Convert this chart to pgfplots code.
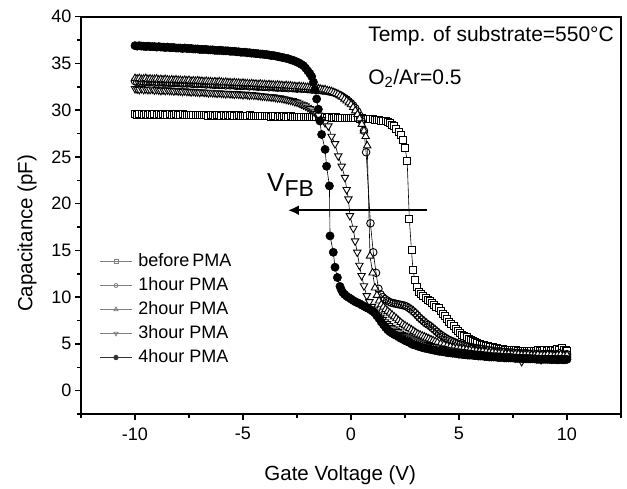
\documentclass[border=0pt]{standalone}
\usepackage{fontspec}
\setmainfont{Liberation Sans}
\usepackage{pgfplots}
\pgfplotsset{compat=1.18}
\usetikzlibrary{arrows.meta}

\begin{document}
\begin{tikzpicture}[x=1pt,y=1pt]
\begin{axis}[
  at={(81pt,74pt)}, anchor=south west,
  scale only axis, width=540pt, height=397.3pt,
  xmin=-12.5, xmax=12.5, ymin=-2.5, ymax=40,
  xtick={-10,-5,0,5,10}, ytick={0,5,...,40},
  minor xtick={-12.5,-7.5,-2.5,2.5,7.5,12.5},
  minor ytick={-2.5,2.5,7.5,12.5,17.5,22.5,27.5,32.5,37.5},
  tick align=outside, tick pos=left,
  major tick length=6pt, minor tick length=4pt,
  every tick/.style={black, line width=1.5pt},
  axis line style={line width=1.8pt},
  /pgf/number format/assume math mode=true,
  ticklabel style={font=\fontsize{18}{18}\selectfont},
  xticklabel shift=4pt,
  xlabel={Gate Voltage (V)}, ylabel={Capacitance (pF)},
  label style={font=\fontsize{20.5}{20.5}\selectfont},
  xlabel style={at={(ticklabel cs:0.48)}, yshift=-19pt},
  ylabel style={at={(ticklabel cs:0.455)}, yshift=8pt},
  legend style={at={(axis cs:-11.65,14.85)}, anchor=north west, draw=none, fill=none, inner sep=0pt,
    font=\fontsize{18}{18}\selectfont, row sep=5pt, column sep=5pt,
    nodes={inner sep=1pt, text height=13pt, text depth=4pt}},
  legend cell align=left,
  legend image code/.code={\draw[mark repeat=2,mark phase=2,#1] plot coordinates {(0pt,0pt) (16pt,0pt) (32pt,0pt)};},
]
% before PMA
\addplot[black, line width=0.6pt, mark=square*, mark size=3.5pt, mark options={solid, fill=white, line width=0.9pt}, forget plot] coordinates {
(-10.0,29.6)(-9.9,29.5)(-9.8,29.55)(-9.7,29.6)(-9.6,29.5)(-9.5,29.55)(-9.4,29.5)(-9.3,29.6)(-9.2,29.5)(-9.1,29.55)
(-9.0,29.5)(-8.9,29.55)(-8.8,29.5)(-8.7,29.6)(-8.6,29.5)(-8.5,29.5)(-8.4,29.55)(-8.3,29.5)(-8.2,29.5)(-8.1,29.55)
(-8.0,29.45)(-7.9,29.5)(-7.8,29.55)(-7.7,29.5)(-7.6,29.45)(-7.5,29.5)(-7.4,29.5)(-7.3,29.45)(-7.2,29.5)(-7.1,29.45)
(-7.0,29.5)(-6.9,29.45)(-6.8,29.5)(-6.7,29.45)(-6.6,29.4)(-6.5,29.5)(-6.4,29.45)(-6.3,29.4)(-6.2,29.45)(-6.1,29.5)
(-6.0,29.4)(-5.9,29.45)(-5.8,29.4)(-5.7,29.45)(-5.6,29.4)(-5.5,29.45)(-5.4,29.4)(-5.3,29.4)(-5.2,29.45)(-5.1,29.4)
(-5.0,29.4)(-4.9,29.35)(-4.8,29.4)(-4.7,29.45)(-4.6,29.4)(-4.5,29.35)(-4.4,29.4)(-4.3,29.35)(-4.2,29.4)(-4.1,29.35)
(-4.0,29.35)(-3.9,29.4)(-3.8,29.35)(-3.7,29.3)(-3.6,29.35)(-3.5,29.35)(-3.4,29.3)(-3.3,29.35)(-3.2,29.3)(-3.1,29.35)
(-3.0,29.3)(-2.9,29.3)(-2.8,29.35)(-2.7,29.3)(-2.6,29.3)(-2.5,29.25)(-2.4,29.3)(-2.3,29.3)(-2.2,29.25)(-2.1,29.3)
(-2.0,29.25)(-1.9,29.3)(-1.8,29.25)(-1.7,29.25)(-1.6,29.3)(-1.5,29.25)(-1.4,29.2)(-1.3,29.25)(-1.2,29.25)(-1.1,29.2)
(-1.0,29.25)(-0.9,29.2)(-0.8,29.2)(-0.7,29.25)(-0.6,29.2)(-0.5,29.2)(-0.4,29.15)(-0.3,29.2)(-0.2,29.2)(-0.1,29.15)
(0.0,29.2)(0.1,29.15)(0.2,29.15)(0.3,29.2)(0.4,29.1)(0.5,29.15)(0.6,29.1)(0.7,29.1)(0.8,29.05)(0.9,29.1)
(1.0,29.05)(1.1,29.0)(1.2,29.0)(1.3,28.95)(1.4,28.9)(1.5,28.85)(1.6,28.8)(1.7,28.7)(1.8,28.6)(1.9,28.45)
(2.0,28.3)(2.1,28.0)(2.2,27.7)(2.3,27.3)(2.4,26.8)(2.5,26.0)(2.6,24.6)(2.7,18.4)(2.8,15.0)(2.87,12.9)
(2.96,11.8)(3.05,11.1)(3.15,10.6)(3.25,10.3)(3.35,10.1)(3.45,9.9)(3.55,9.7)(3.65,9.6)(3.75,9.4)(3.85,9.2)
(3.95,9.0)(4.05,8.8)(4.15,8.5)(4.25,8.2)(4.35,8.0)(4.45,7.7)(4.55,7.4)(4.65,7.1)(4.75,6.9)(4.85,6.6)
(4.95,6.4)(5.05,6.2)(5.15,6.0)(5.25,5.85)(5.35,5.7)(5.45,5.55)(5.55,5.4)(5.65,5.3)(5.75,5.2)(5.85,5.1)
(5.95,5.0)(6.05,4.9)(6.15,4.85)(6.25,4.8)(6.35,4.75)(6.45,4.7)(6.55,4.65)(6.65,4.6)(6.75,4.55)(6.85,4.5)
(6.95,4.45)(7.05,4.45)(7.15,4.4)(7.25,4.4)(7.35,4.35)(7.45,4.3)(7.55,4.3)(7.65,4.3)(7.75,4.25)(7.85,4.25)
(7.95,4.25)(8.05,4.2)(8.15,4.25)(8.25,4.2)(8.35,4.2)(8.45,4.25)(8.55,4.2)(8.65,4.3)(8.75,4.2)(8.85,4.25)
(8.95,4.3)(9.05,4.2)(9.15,4.35)(9.25,4.25)(9.35,4.3)(9.45,4.2)(9.55,4.5)(9.65,4.4)(9.75,4.6)(9.85,4.3)
(9.95,4.4)(10.0,4.2)};
% 1 hour
\addplot[black, line width=0.6pt, mark=o, mark size=3.8pt, mark options={solid, fill=white, line width=0.9pt}, forget plot] coordinates {
(-10.0,33.1)(-9.9,33.0)(-9.8,33.05)(-9.7,33.1)(-9.6,33.0)(-9.5,33.05)(-9.4,33.0)(-9.3,33.0)(-9.2,33.05)(-9.1,32.95)
(-9.0,33.0)(-8.9,32.95)(-8.8,33.0)(-8.7,32.95)(-8.6,32.95)(-8.5,33.0)(-8.4,32.9)(-8.3,32.95)(-8.2,32.9)(-8.1,32.95)
(-8.0,32.9)(-7.9,32.9)(-7.8,32.85)(-7.7,32.9)(-7.6,32.85)(-7.5,32.9)(-7.4,32.85)(-7.3,32.8)(-7.2,32.85)(-7.1,32.8)
(-7.0,32.85)(-6.9,32.8)(-6.8,32.8)(-6.7,32.75)(-6.6,32.8)(-6.5,32.75)(-6.4,32.75)(-6.3,32.7)(-6.2,32.75)(-6.1,32.7)
(-6.0,32.7)(-5.9,32.75)(-5.8,32.65)(-5.7,32.7)(-5.6,32.65)(-5.5,32.7)(-5.4,32.65)(-5.3,32.6)(-5.2,32.65)(-5.1,32.6)
(-5.0,32.6)(-4.9,32.65)(-4.8,32.6)(-4.7,32.55)(-4.6,32.6)(-4.5,32.55)(-4.4,32.55)(-4.3,32.5)(-4.2,32.55)(-4.1,32.5)
(-4.0,32.5)(-3.9,32.5)(-3.8,32.45)(-3.7,32.5)(-3.6,32.45)(-3.5,32.45)(-3.4,32.4)(-3.3,32.45)(-3.2,32.4)(-3.1,32.4)
(-3.0,32.4)(-2.9,32.35)(-2.8,32.4)(-2.7,32.35)(-2.6,32.35)(-2.5,32.3)(-2.4,32.35)(-2.3,32.3)(-2.2,32.3)(-2.1,32.3)
(-2.0,32.25)(-1.9,32.25)(-1.8,32.2)(-1.7,32.25)(-1.6,32.2)(-1.5,32.15)(-1.4,32.15)(-1.3,32.1)(-1.2,32.1)(-1.1,32.05)
(-1.0,32.0)(-0.9,31.95)(-0.8,31.9)(-0.7,31.8)(-0.6,31.7)(-0.5,31.6)(-0.4,31.45)(-0.3,31.3)(-0.2,31.15)(-0.1,30.95)
(0.0,30.75)(0.1,30.5)(0.2,30.2)(0.3,29.85)(0.4,29.4)(0.5,28.8)(0.6,27.8)(0.7,25.5)(0.9,17.9)(1.03,14.8)
(1.16,12.6)(1.27,10.9)(1.37,10.3)(1.47,10.0)(1.57,9.8)(1.67,9.65)(1.77,9.5)(1.87,9.4)(1.97,9.35)(2.07,9.3)
(2.17,9.25)(2.27,9.2)(2.37,9.15)(2.47,9.1)(2.57,9.0)(2.67,8.85)(2.77,8.7)(2.87,8.5)(2.97,8.3)(3.07,8.05)
(3.17,7.8)(3.27,7.6)(3.37,7.4)(3.47,7.2)(3.57,7.05)(3.67,6.9)(3.77,6.7)(3.87,6.5)(3.97,6.3)(4.07,6.1)
(4.17,5.95)(4.27,5.8)(4.37,5.65)(4.47,5.5)(4.57,5.4)(4.67,5.3)(4.77,5.2)(4.87,5.1)(4.97,5.0)(5.07,4.95)
(5.17,4.9)(5.27,4.8)(5.37,4.75)(5.47,4.7)(5.57,4.65)(5.67,4.6)(5.77,4.55)(5.87,4.5)(5.97,4.5)(6.07,4.45)
(6.2,4.4)(6.35,4.35)(6.5,4.3)(6.65,4.25)(6.8,4.2)(6.95,4.2)(7.1,4.15)(7.25,4.1)(7.4,4.1)(7.55,4.05)
(7.7,4.05)(7.85,4.0)(8.0,4.0)(8.15,4.0)(8.3,3.95)(8.45,3.95)(8.6,3.9)(8.75,3.95)(8.9,3.9)(9.05,3.9)
(9.2,3.95)(9.35,3.9)(9.5,3.9)(9.65,4.0)(9.8,3.9)(9.95,3.85)(10.0,3.9)};
% 2 hour
\addplot[black, line width=0.6pt, mark=triangle*, mark size=4.3pt, mark options={solid, fill=white, line width=0.9pt}, forget plot] coordinates {
(-10.0,33.4)(-9.9,33.35)(-9.8,33.4)(-9.7,33.3)(-9.6,33.35)(-9.5,33.4)(-9.4,33.3)(-9.3,33.35)(-9.2,33.3)(-9.1,33.3)
(-9.0,33.35)(-8.9,33.25)(-8.8,33.3)(-8.7,33.25)(-8.6,33.3)(-8.5,33.25)(-8.4,33.2)(-8.3,33.25)(-8.2,33.2)(-8.1,33.25)
(-8.0,33.2)(-7.9,33.2)(-7.8,33.15)(-7.7,33.2)(-7.6,33.15)(-7.5,33.2)(-7.4,33.1)(-7.3,33.15)(-7.2,33.1)(-7.1,33.15)
(-7.0,33.1)(-6.9,33.1)(-6.8,33.05)(-6.7,33.1)(-6.6,33.05)(-6.5,33.05)(-6.4,33.0)(-6.3,33.05)(-6.2,33.0)(-6.1,33.05)
(-6.0,33.0)(-5.9,32.95)(-5.8,33.0)(-5.7,32.95)(-5.6,32.95)(-5.5,32.9)(-5.4,32.95)(-5.3,32.9)(-5.2,32.9)(-5.1,32.85)
(-5.0,32.9)(-4.9,32.85)(-4.8,32.85)(-4.7,32.8)(-4.6,32.85)(-4.5,32.8)(-4.4,32.8)(-4.3,32.75)(-4.2,32.8)(-4.1,32.75)
(-4.0,32.75)(-3.9,32.7)(-3.8,32.75)(-3.7,32.7)(-3.6,32.7)(-3.5,32.65)(-3.4,32.7)(-3.3,32.65)(-3.2,32.65)(-3.1,32.6)
(-3.0,32.65)(-2.9,32.6)(-2.8,32.6)(-2.7,32.55)(-2.6,32.55)(-2.5,32.5)(-2.4,32.55)(-2.3,32.5)(-2.2,32.5)(-2.1,32.45)
(-2.0,32.45)(-1.9,32.4)(-1.8,32.4)(-1.7,32.35)(-1.6,32.35)(-1.5,32.3)(-1.4,32.25)(-1.3,32.2)(-1.2,32.2)(-1.1,32.1)
(-1.0,32.05)(-0.9,32.0)(-0.8,31.9)(-0.7,31.8)(-0.6,31.7)(-0.5,31.55)(-0.4,31.4)(-0.3,31.2)(-0.2,31.0)(-0.1,30.8)
(0.0,30.6)(0.1,30.3)(0.2,29.95)(0.3,29.55)(0.4,29.1)(0.5,28.5)(0.6,27.8)(0.68,27.2)(0.75,26.2)(0.88,14.4)
(1.0,12.6)(1.11,11.0)(1.2,10.2)(1.3,9.6)(1.4,9.2)(1.5,8.95)(1.6,8.7)(1.7,8.5)(1.8,8.3)(1.9,8.1)
(2.0,7.9)(2.1,7.7)(2.2,7.5)(2.3,7.3)(2.4,7.1)(2.5,6.95)(2.6,6.8)(2.7,6.65)(2.8,6.5)(2.9,6.35)
(3.0,6.2)(3.1,6.05)(3.2,5.95)(3.3,5.85)(3.4,5.75)(3.5,5.65)(3.6,5.55)(3.7,5.45)(3.8,5.35)(3.9,5.25)
(4.0,5.15)(4.15,5.0)(4.3,4.9)(4.45,4.8)(4.6,4.7)(4.75,4.6)(4.9,4.55)(5.05,4.5)(5.2,4.45)(5.35,4.4)
(5.5,4.35)(5.65,4.3)(5.8,4.25)(5.95,4.2)(6.1,4.2)(6.25,4.15)(6.4,4.1)(6.55,4.1)(6.7,4.05)(6.85,4.0)
(7.0,4.0)(7.15,3.95)(7.3,3.95)(7.45,3.9)(7.6,3.9)(7.75,3.9)(7.9,3.85)(8.05,3.85)(8.2,3.85)(8.35,3.8)
(8.5,3.8)(8.65,3.85)(8.8,3.8)(8.95,3.8)(9.1,3.85)(9.25,3.8)(9.4,3.75)(9.55,3.8)(9.7,3.85)(9.85,3.75)
(10.0,3.8)};
% 3 hour
\addplot[black, line width=0.6pt, mark=triangle*, mark size=4.3pt, mark options={solid, fill=white, line width=0.9pt, rotate=180}, forget plot] coordinates {
(-10.0,32.3)(-9.9,32.25)(-9.8,32.2)(-9.7,32.3)(-9.6,32.2)(-9.5,32.25)(-9.4,32.2)(-9.3,32.2)(-9.2,32.25)(-9.1,32.15)
(-9.0,32.2)(-8.9,32.15)(-8.8,32.1)(-8.7,32.15)(-8.6,32.1)(-8.5,32.15)(-8.4,32.1)(-8.3,32.1)(-8.2,32.05)(-8.1,32.1)
(-8.0,32.05)(-7.9,32.05)(-7.8,32.0)(-7.7,32.05)(-7.6,32.0)(-7.5,32.0)(-7.4,31.95)(-7.3,32.0)(-7.2,31.95)(-7.1,31.95)
(-7.0,31.9)(-6.9,31.95)(-6.8,31.9)(-6.7,31.9)(-6.6,31.85)(-6.5,31.9)(-6.4,31.85)(-6.3,31.85)(-6.2,31.8)(-6.1,31.85)
(-6.0,31.8)(-5.9,31.8)(-5.8,31.75)(-5.7,31.8)(-5.6,31.75)(-5.5,31.75)(-5.4,31.7)(-5.3,31.75)(-5.2,31.7)(-5.1,31.7)
(-5.0,31.65)(-4.9,31.7)(-4.8,31.65)(-4.7,31.6)(-4.6,31.65)(-4.5,31.6)(-4.4,31.6)(-4.3,31.55)(-4.2,31.55)(-4.1,31.5)
(-4.0,31.5)(-3.9,31.45)(-3.8,31.45)(-3.7,31.4)(-3.6,31.4)(-3.5,31.35)(-3.4,31.3)(-3.3,31.3)(-3.2,31.25)(-3.1,31.2)
(-3.0,31.15)(-2.9,31.1)(-2.8,31.05)(-2.7,31.0)(-2.6,30.9)(-2.5,30.85)(-2.4,30.75)(-2.3,30.65)(-2.2,30.55)(-2.1,30.45)
(-2.0,30.3)(-1.9,30.15)(-1.8,30.0)(-1.7,29.8)(-1.6,29.65)(-1.5,29.45)(-1.35,29.0)(-1.2,28.65)(-1.05,28.3)(-0.9,27.2)
(-0.74,26.4)(-0.59,25.1)(-0.43,24.0)(-0.28,22.8)(-0.2,21.5)(-0.12,20.5)(-0.05,18.7)(0.11,17.35)(0.19,16.0)(0.29,14.8)
(0.39,13.4)(0.49,12.3)(0.6,11.2)(0.73,10.15)(0.85,9.5)(0.97,9.0)(1.07,8.7)(1.17,8.4)(1.27,8.1)(1.37,7.85)
(1.47,7.6)(1.57,7.35)(1.67,7.15)(1.77,6.95)(1.87,6.75)(1.97,6.6)(2.07,6.45)(2.17,6.3)(2.27,6.15)(2.37,6.0)
(2.47,5.9)(2.57,5.8)(2.67,5.7)(2.77,5.6)(2.87,5.5)(2.97,5.4)(3.07,5.3)(3.17,5.2)(3.27,5.1)(3.37,5.05)
(3.47,4.95)(3.57,4.9)(3.67,4.8)(3.77,4.75)(3.87,4.7)(3.97,4.65)(4.1,4.55)(4.25,4.5)(4.4,4.4)(4.55,4.35)
(4.7,4.3)(4.85,4.25)(5.0,4.2)(5.15,4.15)(5.3,4.1)(5.45,4.05)(5.6,4.0)(5.75,4.0)(5.9,3.95)(6.05,3.9)
(6.2,3.9)(6.35,3.85)(6.5,3.8)(6.65,3.8)(6.8,3.75)(6.95,3.75)(7.1,3.7)(7.25,3.7)(7.4,3.65)(7.55,3.65)
(7.7,3.6)(7.9,3.1)(8.0,3.6)(8.15,3.6)(8.3,3.55)(8.45,3.55)(8.6,3.5)(8.8,3.3)(8.9,3.5)(9.05,3.5)
(9.2,3.5)(9.35,3.45)(9.5,3.5)(9.65,3.45)(9.8,3.5)(10.0,3.45)};
% 4 hour
\addplot[black, line width=0.6pt, mark=*, mark size=4.1pt, mark options={solid, fill=black}, forget plot] coordinates {
(-10.0,36.9)(-9.9,36.85)(-9.8,36.9)(-9.7,36.85)(-9.6,36.85)(-9.5,36.8)(-9.4,36.85)(-9.3,36.8)(-9.2,36.8)(-9.1,36.8)
(-9.0,36.75)(-8.9,36.8)(-8.8,36.75)(-8.7,36.75)(-8.6,36.7)(-8.5,36.75)(-8.4,36.7)(-8.3,36.7)(-8.2,36.7)(-8.1,36.65)
(-8.0,36.65)(-7.9,36.65)(-7.8,36.6)(-7.7,36.65)(-7.6,36.6)(-7.5,36.6)(-7.4,36.6)(-7.3,36.55)(-7.2,36.55)(-7.1,36.55)
(-7.0,36.5)(-6.9,36.5)(-6.8,36.5)(-6.7,36.5)(-6.6,36.45)(-6.5,36.45)(-6.4,36.45)(-6.3,36.4)(-6.2,36.4)(-6.1,36.4)
(-6.0,36.4)(-5.9,36.35)(-5.8,36.35)(-5.7,36.35)(-5.6,36.3)(-5.5,36.3)(-5.4,36.3)(-5.3,36.25)(-5.2,36.25)(-5.1,36.2)
(-5.0,36.2)(-4.9,36.2)(-4.8,36.15)(-4.7,36.15)(-4.6,36.1)(-4.5,36.1)(-4.4,36.05)(-4.3,36.05)(-4.2,36.0)(-4.1,36.0)
(-4.0,35.95)(-3.9,35.95)(-3.8,35.9)(-3.7,35.85)(-3.6,35.85)(-3.5,35.8)(-3.4,35.75)(-3.3,35.7)(-3.2,35.65)(-3.1,35.6)
(-3.0,35.55)(-2.9,35.5)(-2.8,35.4)(-2.7,35.35)(-2.6,35.25)(-2.5,35.15)(-2.4,35.05)(-2.3,34.9)(-2.2,34.75)(-2.1,34.5)
(-2.0,34.2)(-1.9,33.9)(-1.82,33.6)(-1.74,33.0)(-1.67,32.2)(-1.59,31.2)(-1.51,30.1)(-1.44,28.85)(-1.36,27.4)(-1.2,25.8)
(-1.13,24.0)(-1.0,21.9)(-0.97,16.55)(-0.82,14.8)(-0.74,13.2)(-0.63,12.1)(-0.51,11.15)(-0.45,10.8)(-0.38,10.5)(-0.3,10.3)
(-0.2,10.1)(-0.1,9.95)(0.0,9.8)(0.1,9.65)(0.2,9.5)(0.3,9.4)(0.4,9.3)(0.5,9.15)(0.6,9.05)(0.7,8.9)
(0.8,8.8)(0.9,8.65)(1.0,8.5)(1.1,8.3)(1.2,8.0)(1.3,7.7)(1.4,7.35)(1.5,7.05)(1.6,6.75)(1.7,6.5)
(1.8,6.3)(1.9,6.15)(2.0,6.0)(2.1,5.9)(2.2,5.75)(2.3,5.6)(2.4,5.5)(2.5,5.35)(2.6,5.25)(2.7,5.15)
(2.8,5.0)(2.9,4.9)(3.0,4.85)(3.1,4.75)(3.2,4.7)(3.3,4.6)(3.4,4.55)(3.5,4.5)(3.6,4.45)(3.7,4.4)
(3.8,4.35)(3.9,4.3)(4.0,4.25)(4.1,4.2)(4.2,4.2)(4.3,4.15)(4.4,4.1)(4.5,4.05)(4.6,4.05)(4.7,4.0)
(4.8,4.0)(4.9,3.95)(5.0,3.9)(5.1,3.9)(5.2,3.85)(5.3,3.85)(5.4,3.8)(5.5,3.8)(5.6,3.8)(5.7,3.75)
(5.8,3.75)(5.9,3.7)(6.0,3.7)(6.1,3.7)(6.2,3.65)(6.3,3.65)(6.4,3.6)(6.5,3.6)(6.6,3.6)(6.7,3.6)
(6.8,3.55)(6.9,3.55)(7.0,3.55)(7.1,3.5)(7.2,3.5)(7.3,3.5)(7.4,3.5)(7.5,3.5)(7.6,3.45)(7.7,3.45)
(7.8,3.45)(7.9,3.45)(8.0,3.4)(8.1,3.4)(8.2,3.4)(8.3,3.4)(8.4,3.4)(8.5,3.4)(8.6,3.35)(8.7,3.35)
(8.8,3.35)(8.9,3.35)(9.0,3.35)(9.1,3.35)(9.2,3.35)(9.3,3.3)(9.4,3.35)(9.5,3.3)(9.6,3.3)(9.7,3.35)
(9.8,3.3)(9.9,3.3)(10.0,3.35)};

\addlegendimage{gray, line width=0.8pt, mark=square, mark size=2pt, mark options={solid}}
\addlegendentry{before\,PMA}
\addlegendimage{gray, line width=0.8pt, mark=o, mark size=2pt, mark options={solid}}
\addlegendentry{1hour PMA}
\addlegendimage{gray, line width=0.8pt, mark=triangle, mark size=2.4pt, mark options={solid}}
\addlegendentry{2hour PMA}
\addlegendimage{gray, line width=0.8pt, mark=triangle, mark size=2.4pt, mark options={solid, rotate=180}}
\addlegendentry{3hour PMA}
\addlegendimage{black!80, line width=0.8pt, mark=*, mark size=2.2pt, mark options={solid}}
\addlegendentry{4hour PMA}

\node[anchor=base west, inner sep=0pt, font=\fontsize{21}{21}\selectfont] at (axis cs:0.79,37.4) {Temp. of substrate=550\textdegree C};
\node[anchor=base west, inner sep=0pt, font=\fontsize{21}{21}\selectfont] at (axis cs:0.79,32.77) {O\textsubscript{2}/Ar=0.5};
\node[anchor=base west, inner sep=0pt] at (axis cs:-3.89,21.3) {{\fontsize{26}{26}\selectfont V}\raisebox{-5pt}{\fontsize{23}{23}\selectfont FB}};
\draw[line width=2.5pt, -{Latex[length=11pt,width=10pt]}] (axis cs:3.52,19.3) -- (axis cs:-2.92,19.3);
\end{axis}
\pgfresetboundingbox
\path (0,0) rectangle (627,488);
\end{tikzpicture}
\end{document}
